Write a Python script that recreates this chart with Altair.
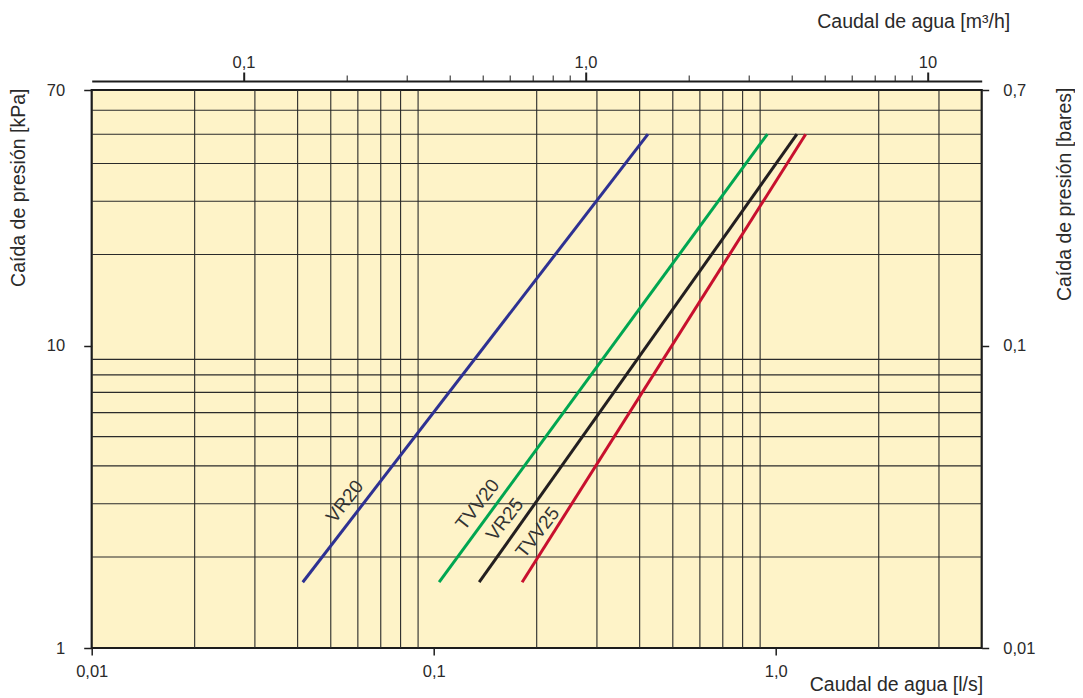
import altair as alt
import pandas as pd

# ---------------- data ----------------
series = ["VR20", "TVV20", "VR25", "TVV25"]
colors = ["#2E3192", "#00A651", "#231F20", "#C8102E"]
flow_start = [0.0414, 0.1037, 0.1358, 0.1813]   # l/s
flow_end = [0.423, 0.945, 1.153, 1.223]         # l/s
dp_start = [1.65, 1.65, 1.65, 1.65]             # kPa
dp_end = [50, 50, 50, 50]                       # kPa
label_flow = [0.0550, 0.1345, 0.1614, 0.2014]
label_dp = [3.05, 2.98, 2.66, 2.41]

x_grid = [0.02, 0.03, 0.04, 0.05, 0.06, 0.07, 0.08, 0.09,
          0.2, 0.3, 0.4, 0.5, 0.6, 0.7, 0.8, 0.9, 2, 3]
y_grid = [2, 3, 4, 5, 6, 7, 8, 9, 20, 30, 40, 50, 60]

x_ticks = [0.01, 0.1, 1.0]
x_tick_labels = ["0,01", "0,1", "1,0"]
y_ticks = [1, 10, 70]
y_tick_labels = ["1", "10", "70"]
top_ticks = [0.1, 0.2, 0.3, 0.4, 0.5, 0.6, 0.7, 0.8, 0.9,
             1, 2, 3, 4, 5, 6, 7, 8, 9, 10]
top_major = [0.1, 1, 10]
top_labels = ["0,1", "1,0", "10"]
right_ticks = [0.01, 0.1, 0.7]
right_labels = ["0,01", "0,1", "0,7"]

X_DOMAIN = [0.01, 4.0]
Y_DOMAIN = [1, 70]
M3H_DOMAIN = [0.036, 14.4]
BAR_DOMAIN = [0.01, 0.7]

FONT = "Liberation Sans"
TXT = "#2a2a2a"
LINE = "#1e1e1e"
LBL = 16.5
TTL = 19.5


def label_expr(values, labels):
    expr = "''"
    for v, l in reversed(list(zip(values, labels))):
        expr = f"(abs(datum.value - {v}) < {v} * 1e-6) ? '{l}' : {expr}"
    return expr


def major_test(values):
    return " || ".join(f"abs(datum.value - {v}) < {v} * 1e-6" for v in values)


# ---------------- axes ----------------
common = dict(grid=False, tickColor=LINE, labelFont=FONT, labelFontSize=LBL,
              labelColor=TXT, labelFlush=False, labelOverlap=False,
              titleFont=FONT, titleFontSize=TTL, titleFontWeight="normal",
              titleColor=TXT, titleBaseline="alphabetic", titleAlign="right")

bottom_axis = alt.Axis(
    orient="bottom", values=x_ticks, labelExpr=label_expr(x_ticks, x_tick_labels),
    domain=False, tickSize=7, tickWidth=1.5, labelPadding=8,
    title="Caudal de agua [l/s]", titleX=891, titleY=42, titleAngle=0, **common,
)
left_axis = alt.Axis(
    orient="left", values=y_ticks, labelExpr=label_expr(y_ticks, y_tick_labels),
    domain=False, tickSize=8, tickWidth=1.5, labelPadding=19,
    title="Caída de presión [kPa]", titleAngle=270, titleX=-67.5, titleY=-2, **common,
)
top_axis = alt.Axis(
    orient="top", values=top_ticks, labelExpr=label_expr(top_major, top_labels),
    domain=True, domainColor=LINE, domainWidth=2, offset=9,
    tickSize={"condition": {"test": major_test(top_major), "value": 9}, "value": 6},
    tickWidth={"condition": {"test": major_test(top_major), "value": 2}, "value": 1},
    labelPadding=2,
    title="Caudal de agua [m³/h]", titleX=918, titleY=-54, titleAngle=0, **common,
)
right_axis = alt.Axis(
    orient="right", values=right_ticks, labelExpr=label_expr(right_ticks, right_labels),
    domain=False, tickSize=7, tickWidth=1.5, labelPadding=14,
    title="Caída de presión [bares]", titleAngle=270, titleX=89, titleY=-3, **common,
)

xscale = alt.Scale(type="log", domain=X_DOMAIN, nice=False, zero=False)
yscale = alt.Scale(type="log", domain=Y_DOMAIN, nice=False, zero=False)


def X(field):
    return alt.X(f"{field}:Q", scale=xscale, axis=bottom_axis)


def Y(field):
    return alt.Y(f"{field}:Q", scale=yscale, axis=left_axis)


# ---------------- tables ----------------
lines_df = pd.DataFrame({
    "series": series * 2,
    "flow": flow_start + flow_end,
    "dp": dp_start + dp_end,
})
labels_df = pd.DataFrame({"series": series, "flow": label_flow, "dp": label_dp})
xgrid_df = pd.DataFrame({"flow": x_grid})
ygrid_df = pd.DataFrame({"dp": y_grid})
sec_df = pd.DataFrame({"m3h": M3H_DOMAIN, "bar": BAR_DOMAIN})

vgrid = alt.Chart(xgrid_df).mark_rule(color="#2a2a2a", strokeWidth=1.1).encode(x=X("flow"))
hgrid = alt.Chart(ygrid_df).mark_rule(color="#2a2a2a", strokeWidth=1.1).encode(y=Y("dp"))

curves = alt.Chart(lines_df).mark_line(strokeWidth=3, strokeCap="butt").encode(
    x=X("flow"), y=Y("dp"),
    color=alt.Color("series:N", scale=alt.Scale(domain=series, range=colors), legend=None),
    detail="series:N",
)
texts = alt.Chart(labels_df).mark_text(
    angle=308, font=FONT, fontSize=19, color="#333333", align="center", baseline="middle"
).encode(x=X("flow"), y=Y("dp"), text="series:N")

inner = alt.layer(vgrid, hgrid, curves, texts)

secondary = alt.Chart(sec_df).mark_point(opacity=0).encode(
    x=alt.X("m3h:Q", scale=alt.Scale(type="log", domain=M3H_DOMAIN, nice=False, zero=False),
            axis=top_axis),
    y=alt.Y("bar:Q", scale=alt.Scale(type="log", domain=BAR_DOMAIN, nice=False, zero=False),
            axis=right_axis),
)

chart = alt.layer(inner, secondary).resolve_scale(
    x="independent", y="independent"
).properties(
    width=890, height=558,
    autosize=alt.AutoSizeParams(type="none"),
    padding={"left": 83.7, "top": 82, "right": 93.3, "bottom": 48},
    background="white",
).configure_view(
    fill="#FEF3C8", stroke="#1c1c1c", strokeWidth=2.2,
)

chart.save("out.html", embed_options={"renderer": "svg", "actions": False})
